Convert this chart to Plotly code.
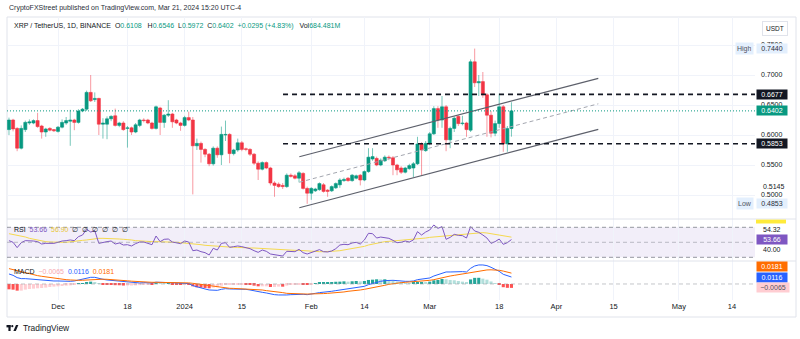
import pandas as pd
import plotly.graph_objects as go

# ---------------- XRP / USDT daily candles (Binance) ----------------
first_day, last_day = "2023-11-19", "2024-03-21"

# (open, high, low, close) per day, grouped by month
ohlc_nov = [
    (0.609, 0.629, 0.600, 0.625), (0.625, 0.627, 0.606, 0.610), (0.611, 0.613, 0.573, 0.578),
    (0.578, 0.616, 0.576, 0.611), (0.609, 0.624, 0.605, 0.621), (0.620, 0.626, 0.617, 0.622),
    (0.620, 0.626, 0.618, 0.624), (0.624, 0.637, 0.612, 0.614), (0.615, 0.617, 0.594, 0.605),
    (0.605, 0.612, 0.597, 0.610), (0.611, 0.613, 0.606, 0.608), (0.609, 0.610, 0.605, 0.607),
]
ohlc_dec = [
    (0.606, 0.615, 0.604, 0.613), (0.613, 0.626, 0.611, 0.621), (0.620, 0.630, 0.617, 0.624),
    (0.623, 0.642, 0.582, 0.625), (0.625, 0.627, 0.608, 0.621), (0.621, 0.643, 0.619, 0.640),
    (0.640, 0.645, 0.638, 0.643), (0.643, 0.674, 0.640, 0.671), (0.671, 0.700, 0.655, 0.657),
    (0.659, 0.671, 0.655, 0.661), (0.661, 0.662, 0.600, 0.618), (0.618, 0.628, 0.594, 0.620),
    (0.618, 0.631, 0.593, 0.627), (0.627, 0.633, 0.623, 0.631), (0.632, 0.644, 0.614, 0.616),
    (0.616, 0.622, 0.613, 0.620), (0.620, 0.623, 0.607, 0.609), (0.611, 0.615, 0.579, 0.612),
    (0.612, 0.614, 0.600, 0.605), (0.605, 0.620, 0.603, 0.617), (0.616, 0.627, 0.613, 0.625),
    (0.625, 0.628, 0.621, 0.624), (0.625, 0.627, 0.618, 0.620), (0.620, 0.622, 0.609, 0.611),
    (0.611, 0.649, 0.609, 0.647), (0.645, 0.647, 0.600, 0.621), (0.621, 0.635, 0.612, 0.633),
    (0.633, 0.658, 0.630, 0.635), (0.635, 0.637, 0.612, 0.622), (0.625, 0.627, 0.618, 0.620),
    (0.620, 0.622, 0.607, 0.616),
]
ohlc_jan = [
    (0.616, 0.632, 0.614, 0.629), (0.629, 0.639, 0.623, 0.625), (0.625, 0.630, 0.501, 0.582),
    (0.582, 0.594, 0.575, 0.586), (0.586, 0.589, 0.554, 0.576), (0.576, 0.578, 0.563, 0.568),
    (0.568, 0.570, 0.548, 0.552), (0.552, 0.581, 0.549, 0.578), (0.578, 0.581, 0.562, 0.567),
    (0.567, 0.614, 0.550, 0.601), (0.600, 0.624, 0.590, 0.601), (0.601, 0.603, 0.553, 0.569),
    (0.569, 0.577, 0.566, 0.575), (0.575, 0.594, 0.572, 0.587), (0.587, 0.590, 0.573, 0.576),
    (0.577, 0.579, 0.573, 0.576), (0.576, 0.578, 0.565, 0.568), (0.568, 0.570, 0.550, 0.553),
    (0.553, 0.556, 0.525, 0.543), (0.543, 0.556, 0.541, 0.554), (0.554, 0.556, 0.543, 0.545),
    (0.545, 0.547, 0.516, 0.520), (0.520, 0.523, 0.497, 0.516), (0.518, 0.521, 0.512, 0.514),
    (0.516, 0.520, 0.510, 0.514), (0.514, 0.536, 0.512, 0.533), (0.533, 0.536, 0.529, 0.531),
    (0.532, 0.535, 0.526, 0.528), (0.528, 0.540, 0.521, 0.537), (0.536, 0.538, 0.509, 0.511),
    (0.511, 0.514, 0.4853, 0.503),
]
ohlc_feb = [
    (0.503, 0.513, 0.492, 0.511), (0.507, 0.512, 0.505, 0.510), (0.509, 0.521, 0.507, 0.519),
    (0.517, 0.520, 0.504, 0.506), (0.508, 0.510, 0.497, 0.506), (0.507, 0.516, 0.505, 0.514),
    (0.512, 0.521, 0.510, 0.519), (0.517, 0.528, 0.512, 0.525), (0.524, 0.529, 0.522, 0.526),
    (0.528, 0.530, 0.522, 0.524), (0.524, 0.535, 0.522, 0.533), (0.528, 0.534, 0.526, 0.532),
    (0.533, 0.535, 0.516, 0.525), (0.525, 0.541, 0.523, 0.539), (0.539, 0.578, 0.537, 0.563),
    (0.560, 0.578, 0.557, 0.564), (0.561, 0.564, 0.548, 0.550), (0.550, 0.561, 0.548, 0.558),
    (0.557, 0.566, 0.555, 0.563), (0.563, 0.566, 0.558, 0.562), (0.562, 0.565, 0.533, 0.550),
    (0.550, 0.552, 0.533, 0.542), (0.545, 0.548, 0.535, 0.538), (0.538, 0.547, 0.536, 0.545),
    (0.544, 0.552, 0.542, 0.549), (0.545, 0.555, 0.530, 0.552), (0.552, 0.597, 0.550, 0.585),
    (0.585, 0.588, 0.533, 0.575), (0.574, 0.590, 0.572, 0.586),
]
ohlc_mar = [
    (0.586, 0.605, 0.583, 0.602), (0.602, 0.648, 0.600, 0.644), (0.644, 0.648, 0.612, 0.625),
    (0.625, 0.665, 0.612, 0.647), (0.647, 0.650, 0.573, 0.592), (0.592, 0.614, 0.578, 0.611),
    (0.611, 0.631, 0.605, 0.628), (0.631, 0.633, 0.615, 0.619), (0.619, 0.632, 0.616, 0.620),
    (0.620, 0.622, 0.597, 0.609), (0.608, 0.726, 0.605, 0.722), (0.722, 0.7440, 0.680, 0.687),
    (0.687, 0.700, 0.665, 0.689), (0.689, 0.705, 0.662, 0.667), (0.667, 0.670, 0.597, 0.633),
    (0.633, 0.640, 0.596, 0.603), (0.603, 0.624, 0.598, 0.619), (0.619, 0.669, 0.612, 0.647),
    (0.647, 0.650, 0.572, 0.5853), (0.5853, 0.615, 0.572, 0.6107), (0.6108, 0.6546, 0.5972, 0.6402),
]
volume_text = "684.481M"

# ---------------- RSI (14) and its moving average ----------------
rsi_nov = [52.2, 50.0, 42.9, 49.5, 52.2, 52.2, 51.7, 50.9, 47.7, 48.6, 48.6, 48.6]
rsi_dec = [50.0, 51.7, 52.2, 53.1, 52.2, 57.5, 59.7, 67.3, 63.7, 65.5, 48.6, 50.0, 50.9, 51.7,
           47.7, 49.1, 46.4, 46.8, 45.1, 48.2, 50.4, 50.4, 49.1, 46.8, 58.4, 50.9, 54.0, 54.4,
           50.4, 49.1, 48.2]
rsi_jan = [51.7, 50.4, 38.8, 39.7, 37.5, 36.2, 33.1, 42.0, 39.7, 48.6, 49.5, 43.3, 44.2, 45.1,
           44.2, 43.3, 41.5, 38.8, 36.6, 39.7, 38.0, 34.4, 33.5, 31.7, 31.7, 38.0, 38.0, 37.5,
           40.6, 36.2, 34.4]
rsi_feb = [36.2, 38.8, 40.2, 37.5, 37.1, 38.4, 41.5, 46.4, 47.3, 46.8, 49.1, 50.0, 47.7, 53.1,
           62.0, 61.5, 55.7, 57.0, 56.2, 55.3, 52.6, 49.5, 50.0, 51.7, 50.4, 53.1, 64.2, 59.7,
           63.7]
rsi_mar = [66.4, 73.1, 68.6, 70.9, 54.0, 56.6, 60.6, 59.3, 58.9, 55.7, 70.9, 65.1, 63.3, 59.7,
           55.7, 48.6, 50.9, 54.4, 47.3, 49.5, 53.66]

rsi_ma_nov = [61.5, 60.6, 59.7, 58.4, 57.1, 55.3, 54.0, 52.6, 51.7, 50.9, 50.4, 50.0]
rsi_ma_dec = [50.0, 50.0, 50.0, 50.4, 51.3, 51.7, 52.6, 53.1, 54.0, 54.8, 55.3, 55.3, 55.3, 55.3,
              54.8, 54.4, 54.0, 54.0, 53.1, 52.2, 51.7, 51.7, 51.3, 50.9, 50.9, 50.9, 50.4, 50.4,
              50.4, 50.0, 49.5]
rsi_ma_jan = [49.1, 48.6, 47.7, 47.3, 46.8, 46.0, 45.5, 45.1, 44.6, 44.2, 44.2, 43.7, 43.3, 43.3,
              42.8, 42.8, 42.4, 42.4, 42.0, 42.0, 41.5, 41.1, 40.6, 40.2, 40.2, 39.7, 39.7, 39.3,
              39.3, 38.8, 38.4]
rsi_ma_feb = [38.0, 38.0, 37.5, 37.5, 37.5, 38.0, 38.4, 38.8, 39.7, 40.2, 41.1, 42.0, 43.3, 44.6,
              46.4, 47.7, 49.1, 50.0, 50.9, 51.3, 51.7, 52.2, 52.6, 53.1, 53.5, 54.0, 54.4, 54.8,
              55.7]
rsi_ma_mar = [56.6, 57.1, 57.5, 58.0, 58.4, 58.4, 58.9, 59.3, 59.7, 60.6, 61.5, 62.0, 62.4, 62.9,
              62.4, 61.5, 60.6, 59.3, 58.4, 57.5, 56.90]
rsi_scale_marks = ["54.32", "40.00"]

# ---------------- MACD (12, 26, 9) ----------------
macd_nov = [0.0167, 0.0144, 0.0106, 0.0089, 0.0089, 0.0083, 0.0072, 0.0067, 0.0061, 0.0056, 0.0056, 0.0050]
macd_dec = [0.0050, 0.0044, 0.0044, 0.0044, 0.0050, 0.0063, 0.0078, 0.0100, 0.0111, 0.0111, 0.0089,
            0.0078, 0.0067, 0.0061, 0.0050, 0.0044, 0.0033, 0.0028, 0.0022, 0.0017, 0.0017, 0.0022,
            0.0022, 0.0017, 0.0030, 0.0029, 0.0029, 0.0030, 0.0024, 0.0018, 0.0012]
macd_jan = [0.0012, 0.0006, -0.0028, -0.0050, -0.0067, -0.0083, -0.0100, -0.0100, -0.0106, -0.0089,
            -0.0078, -0.0083, -0.0083, -0.0083, -0.0083, -0.0089, -0.0100, -0.0117, -0.0133, -0.0139,
            -0.0150, -0.0167, -0.0178, -0.0183, -0.0189, -0.0183, -0.0178, -0.0172, -0.0167, -0.0172,
            -0.0178]
macd_feb = [-0.0172, -0.0156, -0.0144, -0.0139, -0.0133, -0.0122, -0.0111, -0.0100, -0.0089, -0.0083,
            -0.0072, -0.0061, -0.0056, -0.0039, -0.0011, 0.0011, 0.0028, 0.0044, 0.0056, 0.0061,
            0.0061, 0.0056, 0.0044, 0.0044, 0.0044, 0.0050, 0.0072, 0.0078, 0.0089]
macd_mar = [0.0100, 0.0133, 0.0156, 0.0189, 0.0200, 0.0200, 0.0206, 0.0206, 0.0206, 0.0200, 0.0261,
            0.0300, 0.0317, 0.0317, 0.0306, 0.0278, 0.0244, 0.0211, 0.0161, 0.0133, 0.0116]

signal_nov = [0.0256, 0.0239, 0.0217, 0.0200, 0.0183, 0.0167, 0.0150, 0.0139, 0.0128, 0.0117, 0.0106, 0.0094]
signal_dec = [0.0089, 0.0078, 0.0072, 0.0067, 0.0061, 0.0061, 0.0062, 0.0067, 0.0072, 0.0078, 0.0080,
              0.0080, 0.0078, 0.0075, 0.0070, 0.0065, 0.0059, 0.0053, 0.0047, 0.0041, 0.0036, 0.0033,
              0.0031, 0.0028, 0.0028, 0.0028, 0.0028, 0.0028, 0.0027, 0.0025, 0.0023]
signal_jan = [0.0021, 0.0018, 0.0011, 0.0006, -0.0006, -0.0017, -0.0028, -0.0039, -0.0050, -0.0061,
              -0.0067, -0.0072, -0.0074, -0.0076, -0.0078, -0.0081, -0.0083, -0.0089, -0.0094, -0.0100,
              -0.0111, -0.0117, -0.0128, -0.0139, -0.0144, -0.0156, -0.0161, -0.0163, -0.0164, -0.0166,
              -0.0168]
signal_feb = [-0.0169, -0.0167, -0.0164, -0.0160, -0.0156, -0.0153, -0.0148, -0.0139, -0.0133, -0.0122,
              -0.0117, -0.0111, -0.0100, -0.0089, -0.0078, -0.0061, -0.0050, -0.0033, -0.0022, -0.0006,
              0.0006, 0.0017, 0.0022, 0.0028, 0.0033, 0.0033, 0.0039, 0.0044, 0.0056]
signal_mar = [0.0061, 0.0072, 0.0089, 0.0106, 0.0122, 0.0133, 0.0144, 0.0156, 0.0167, 0.0174, 0.0185,
              0.0198, 0.0214, 0.0228, 0.0234, 0.0236, 0.0234, 0.0228, 0.0215, 0.0197, 0.0181]

hist_nov = [-0.0089, -0.0095, -0.0111, -0.0111, -0.0094, -0.0084, -0.0078, -0.0072, -0.0067, -0.0061,
            -0.0050, -0.0044]
hist_dec = [-0.0039, -0.0034, -0.0028, -0.0023, -0.0011, 0.0002, 0.0016, 0.0033, 0.0039, 0.0033, 0.0009,
            -0.0002, -0.0011, -0.0014, -0.0020, -0.0021, -0.0026, -0.0025, -0.0025, -0.0024, -0.0019,
            -0.0011, -0.0009, -0.0011, 0.0002, 0.0001, 0.0001, 0.0002, -0.0003, -0.0007, -0.0011]
hist_jan = [-0.0009, -0.0012, -0.0039, -0.0056, -0.0061, -0.0066, -0.0072, -0.0061, -0.0056, -0.0028,
            -0.0011, -0.0011, -0.0009, -0.0007, -0.0005, -0.0008, -0.0017, -0.0028, -0.0039, -0.0039,
            -0.0039, -0.0050, -0.0050, -0.0044, -0.0045, -0.0027, -0.0017, -0.0009, -0.0003, -0.0006,
            -0.0010]
hist_feb = [-0.0003, 0.0011, 0.0020, 0.0021, 0.0023, 0.0031, 0.0037, 0.0039, 0.0044, 0.0039, 0.0045,
            0.0050, 0.0044, 0.0050, 0.0067, 0.0072, 0.0078, 0.0077, 0.0078, 0.0067, 0.0055, 0.0039,
            0.0022, 0.0016, 0.0011, 0.0017, 0.0033, 0.0034, 0.0033]
hist_mar = [0.0039, 0.0061, 0.0067, 0.0083, 0.0078, 0.0067, 0.0062, 0.0050, 0.0039, 0.0026, 0.0076,
            0.0102, 0.0103, 0.0089, 0.0072, 0.0042, 0.0010, -0.0017, -0.0054, -0.0064, -0.0065]

# ---------------- drawings ----------------
level_prices = [0.6677, 0.5853]
level_start = "2024-01-25 02:00"
channel_dates = ["2024-01-29 01:40", "2024-04-11 06:15"]
channel_upper = [0.5638, 0.6945]
channel_mid = [0.5213, 0.6520]
channel_lower = [0.4788, 0.6095]
extra_price_mark = 0.5145

tick_dates = ["2023-12-01", "2023-12-18", "2024-01-01", "2024-01-15", "2024-02-01", "2024-02-14",
              "2024-03-01", "2024-03-18", "2024-04-01", "2024-04-15", "2024-05-01", "2024-05-14"]
tick_text = ["Dec", "18", "2024", "15", "Feb", "14", "Mar", "18", "Apr", "15", "May", "14"]
price_ticks = [0.50, 0.55, 0.60, 0.65, 0.70, 0.75]

# ---------------- assemble series ----------------
dates = pd.date_range(first_day, last_day, freq="D")
ohlc = ohlc_nov + ohlc_dec + ohlc_jan + ohlc_feb + ohlc_mar
opens = [r[0] for r in ohlc]
highs = [r[1] for r in ohlc]
lows = [r[2] for r in ohlc]
closes = [r[3] for r in ohlc]
rsi = rsi_nov + rsi_dec + rsi_jan + rsi_feb + rsi_mar
rsi_ma = rsi_ma_nov + rsi_ma_dec + rsi_ma_jan + rsi_ma_feb + rsi_ma_mar
macd = macd_nov + macd_dec + macd_jan + macd_feb + macd_mar
signal = signal_nov + signal_dec + signal_jan + signal_feb + signal_mar
hist = hist_nov + hist_dec + hist_jan + hist_feb + hist_mar

# ---------------- styling / geometry ----------------
W, H = 800, 339
FONT = "Liberation Sans, Arial, sans-serif"
TXT = "#131722"
UP, DOWN = "#089981", "#F23645"
UP_WICK, DOWN_WICK = "rgba(8,153,129,0.55)", "rgba(242,54,69,0.5)"
GRID = "#f0f3fa"
RSI_C, RSI_MA_C = "#7E57C2", "#F5D94E"
MACD_C, SIG_C = "#2962FF", "#FF6D00"
DAY_MS = 86400000


def px(x):
    return x / W


def py(y):
    return 1 - y / H


x_dom = [px(7), px(755)]
main_dom = [py(219), py(17)]
rsi_dom = [py(261), py(219)]
macd_dom = [py(300), py(261)]
x_range = ["2023-11-18 12:22", "2024-05-19 14:53"]
price_range = [0.46, 0.79667]
rsi_range = [25.07, 81.07]
macd_range = [-0.0267, 0.0383]

fig = go.Figure()

# wicks
for is_up, col in ((True, UP_WICK), (False, DOWN_WICK)):
    wx, wy = [], []
    for t, o, h, l, c in zip(dates, opens, highs, lows, closes):
        if (c >= o) == is_up:
            wx += [t, t, None]
            wy += [l, h, None]
    fig.add_trace(go.Scatter(x=wx, y=wy, mode="lines", line=dict(color=col, width=1),
                             hoverinfo="skip", xaxis="x", yaxis="y"))

# candle bodies
body_cols = [UP if c >= o else DOWN for o, c in zip(opens, closes)]
fig.add_trace(go.Bar(
    x=dates, y=[abs(c - o) for o, c in zip(opens, closes)],
    base=[min(o, c) for o, c in zip(opens, closes)],
    width=DAY_MS * 0.76, marker=dict(color=body_cols, line=dict(color=body_cols, width=0.6)),
    hoverinfo="skip", xaxis="x", yaxis="y"))

# ascending channel
fig.add_trace(go.Scatter(x=channel_dates, y=channel_upper, mode="lines",
                         line=dict(color="#5d606b", width=1.2), hoverinfo="skip", xaxis="x", yaxis="y"))
fig.add_trace(go.Scatter(x=channel_dates, y=channel_lower, mode="lines",
                         line=dict(color="#5d606b", width=1.2), hoverinfo="skip", xaxis="x", yaxis="y"))
fig.add_trace(go.Scatter(x=channel_dates, y=channel_mid, mode="lines",
                         line=dict(color="#a3a6af", width=1, dash="4px,3px"), hoverinfo="skip",
                         xaxis="x", yaxis="y"))

# RSI pane
fig.add_trace(go.Scatter(x=dates, y=rsi_ma, mode="lines", line=dict(color=RSI_MA_C, width=1),
                         hoverinfo="skip", xaxis="x2", yaxis="y2"))
fig.add_trace(go.Scatter(x=dates, y=rsi, mode="lines", line=dict(color=RSI_C, width=1),
                         hoverinfo="skip", xaxis="x2", yaxis="y2"))

# MACD pane
hist_cols = []
prev = None
for v in hist:
    if v >= 0:
        hist_cols.append("#26A69A" if prev is not None and v > prev else "#B2DFDB")
    else:
        hist_cols.append("#FF5252" if prev is None or v < prev else "#FFCDD2")
    prev = v
fig.add_trace(go.Bar(x=dates, y=hist, width=DAY_MS * 0.76, marker=dict(color=hist_cols, line_width=0),
                     hoverinfo="skip", xaxis="x3", yaxis="y3"))
fig.add_trace(go.Scatter(x=dates, y=macd, mode="lines", line=dict(color=MACD_C, width=1),
                         hoverinfo="skip", xaxis="x3", yaxis="y3"))
fig.add_trace(go.Scatter(x=dates, y=signal, mode="lines", line=dict(color=SIG_C, width=1),
                         hoverinfo="skip", xaxis="x3", yaxis="y3"))

# ---------------- axes ----------------
xcommon = dict(domain=x_dom, range=x_range, type="date", tickvals=tick_dates, ticktext=tick_text,
               showgrid=True, gridcolor=GRID, gridwidth=1, zeroline=False, showline=False, ticks="",
               fixedrange=True)
yhidden = dict(showgrid=False, zeroline=False, showline=False, showticklabels=False, ticks="")

fig.update_layout(
    xaxis=dict(**xcommon, anchor="y", showticklabels=False),
    xaxis2=dict(**xcommon, anchor="y2", showticklabels=False),
    xaxis3=dict(**xcommon, anchor="y3", showticklabels=True,
                tickfont=dict(family=FONT, size=7.5, color=TXT)),
    yaxis=dict(domain=main_dom, range=price_range, side="right", anchor="x",
               tickvals=price_ticks, ticktext=[f"{v:.4f}" for v in price_ticks],
               tickfont=dict(family=FONT, size=7, color=TXT), ticklabelstandoff=5,
               showgrid=True, gridcolor=GRID, zeroline=False, showline=False, ticks=""),
    yaxis2=dict(domain=rsi_dom, range=rsi_range, anchor="x2", **yhidden),
    yaxis3=dict(domain=macd_dom, range=macd_range, anchor="x3", **yhidden),
)

# ---------------- shapes ----------------
shapes = []
# chart frame and pane separators
shapes.append(dict(type="rect", xref="paper", yref="paper", x0=px(7), x1=px(796), y0=py(317), y1=py(17),
                   line=dict(color="#e0e3eb", width=1), layer="below"))
for yy in (219, 261):
    shapes.append(dict(type="line", xref="paper", yref="paper", x0=px(7), x1=px(796), y0=py(yy), y1=py(yy),
                       line=dict(color="#e0e3eb", width=1)))
# last price line
shapes.append(dict(type="line", xref="x domain", yref="y", x0=0, x1=1, y0=closes[-1], y1=closes[-1],
                   line=dict(color=UP, width=1, dash="1px,2px")))
# horizontal support / resistance levels
for lv in level_prices:
    shapes.append(dict(type="line", xref="x", yref="y", x0=level_start, x1=x_range[1], y0=lv, y1=lv,
                       line=dict(color=TXT, width=1.6, dash="5px,4px")))
# RSI band and guides
shapes.append(dict(type="rect", xref="x2 domain", yref="y2", x0=0, x1=1, y0=30, y1=70,
                   fillcolor="rgba(126,87,194,0.10)", line_width=0, layer="below"))
for lv, col in ((70, "#9598a1"), (50, "rgba(149,152,161,0.6)"), (30, "#9598a1")):
    shapes.append(dict(type="line", xref="x2 domain", yref="y2", x0=0, x1=1, y0=lv, y1=lv,
                       line=dict(color=col, width=1, dash="4px,3px")))
# MACD zero line
shapes.append(dict(type="line", xref="x3 domain", yref="y3", x0=0, x1=1, y0=0, y1=0,
                   line=dict(color="rgba(149,152,161,0.55)", width=1, dash="4px,3px")))
# RSI-MA scale tag pushed against the pane top
shapes.append(dict(type="rect", xref="paper", yref="paper", x0=px(756), x1=px(786), y0=py(223.5), y1=py(219.6),
                   fillcolor="#FFEB3B", line_width=0))
# TradingView logo
LOGO = TXT
shapes += [
    dict(type="rect", xref="paper", yref="paper", x0=px(6.5), x1=px(10.6), y0=py(327.4), y1=py(325),
         fillcolor=LOGO, line_width=0),
    dict(type="rect", xref="paper", yref="paper", x0=px(8.4), x1=px(10.6), y0=py(331), y1=py(325),
         fillcolor=LOGO, line_width=0),
    dict(type="circle", xref="paper", yref="paper", x0=px(11.2), x1=px(13.4), y0=py(327.3), y1=py(325.1),
         fillcolor=LOGO, line_width=0),
    dict(type="path", xref="paper", yref="paper",
         path=f"M {px(13.4)} {py(331)} L {px(15.8)} {py(331)} L {px(18.4)} {py(325)} L {px(16.0)} {py(325)} Z",
         fillcolor=LOGO, line_width=0),
]
fig.update_layout(shapes=shapes)

# ---------------- annotations ----------------
ann = []


def text(s, x, y, xanchor="left", size=7, color=TXT, yref="paper", **kw):
    ann.append(dict(text=s, x=x, y=y, xref="paper", yref=yref, xanchor=xanchor, yanchor="middle",
                    showarrow=False, font=dict(family=FONT, size=size, color=color), **kw))


def badge(s, y, bg, fg="white", yref="paper", x=px(771.5), width=30):
    ann.append(dict(text=s, x=x, y=y, xref="paper", yref=yref, xanchor="center", yanchor="middle",
                    showarrow=False, bgcolor=bg, width=width, height=9, borderpad=0, align="center",
                    font=dict(family=FONT, size=7, color=fg)))


def span(s, col):
    return f"<span style='color:{col}'>{s}</span>"


NB = "\u00a0"
text("CryptoFXStreet published on TradingView.com, Mar 21, 2024 15:20 UTC-4", px(7), py(8), size=7.0,
     color="#2a2e39")

# symbol legend
chg = closes[-1] - closes[-2]
pct = chg / closes[-2] * 100
legend = (f"XRP / TetherUS, 1D, BINANCE{NB}{NB}"
          f"O{span(f'{opens[-1]:.4f}', UP)}{NB}{NB}{NB}H{span(f'{highs[-1]:.4f}', UP)}{NB}{NB}"
          f"L{span(f'{lows[-1]:.4f}', UP)}{NB}{NB}C{span(f'{closes[-1]:.4f}', UP)}{NB}{NB}"
          f"{span(f'+{chg:.4f} (+{pct:.2f}%)', UP)}{NB}{NB}{NB}Vol{span(volume_text, UP)}")
text(legend, px(12), py(26))

null = "\u2205"
rsi_leg = (f"RSI{NB}{NB}{span(f'{rsi[-1]:.2f}', RSI_C)}{NB}{NB}{span(f'{rsi_ma[-1]:.2f}', '#E9C73A')}"
           + "".join(f"{NB}{NB}{null}" for _ in range(6)))
text(rsi_leg, px(12), py(229))

minus = "\u2212"
macd_leg = (f"MACD{NB}{NB}{span(f'{minus}{abs(hist[-1]):.4f}', '#F7A8B0')}{NB}{NB}"
            f"{span(f'{macd[-1]:.4f}', MACD_C)}{NB}{NB}{span(f'{signal[-1]:.4f}', SIG_C)}")
text(macd_leg, px(12), py(271))

# price scale tags
text("USDT", px(775), py(28), xanchor="center", size=6.5, bordercolor="#e0e3eb", borderwidth=1,
     borderpad=3, bgcolor="white")
hi, lo = max(highs), min(lows)
ann.append(dict(text="High", x=px(754), y=hi, xref="paper", yref="y", xanchor="right", yanchor="middle",
                showarrow=False, bgcolor="#e3effd", height=9, borderpad=1,
                font=dict(family=FONT, size=7, color="#50535e")))
badge(f"{hi:.4f}", hi, "#e3effd", fg="#2a2e39", yref="y")
ann.append(dict(text="Low", x=px(754), y=lo, xref="paper", yref="y", xanchor="right", yanchor="middle",
                showarrow=False, bgcolor="#e3effd", height=9, borderpad=1,
                font=dict(family=FONT, size=7, color="#50535e")))
badge(f"{lo:.4f}", lo, "#e3effd", fg="#2a2e39", yref="y")
for lv in level_prices:
    badge(f"{lv:.4f}", lv, TXT, yref="y")
badge(f"{closes[-1]:.4f}", closes[-1], UP, yref="y")
text(f"{extra_price_mark:.4f}", px(761), extra_price_mark, yref="y")

# RSI scale
text(rsi_scale_marks[0], px(761), py(229.3))
badge(f"{rsi[-1]:.2f}", rsi[-1], RSI_C, yref="y2")
text(rsi_scale_marks[1], px(761), float(rsi_scale_marks[1]), yref="y2")

# MACD scale
badge(f"{signal[-1]:.4f}", py(266), SIG_C)
badge(f"{macd[-1]:.4f}", macd[-1], MACD_C, yref="y3")
badge(f"{minus}{abs(hist[-1]):.4f}", hist[-1], "#FFCDD2", fg="#50535e", yref="y3", width=32, x=px(772.5))

# footer wordmark
text("TradingView", px(20.5), py(327.8), size=8.4, color=TXT)

fig.update_layout(
    annotations=ann, width=W, height=H, margin=dict(l=0, r=0, t=0, b=0),
    paper_bgcolor="white", plot_bgcolor="white", showlegend=False, barmode="overlay",
    font=dict(family=FONT, size=7, color=TXT), hovermode=False,
)

fig.write_html("out.html")
